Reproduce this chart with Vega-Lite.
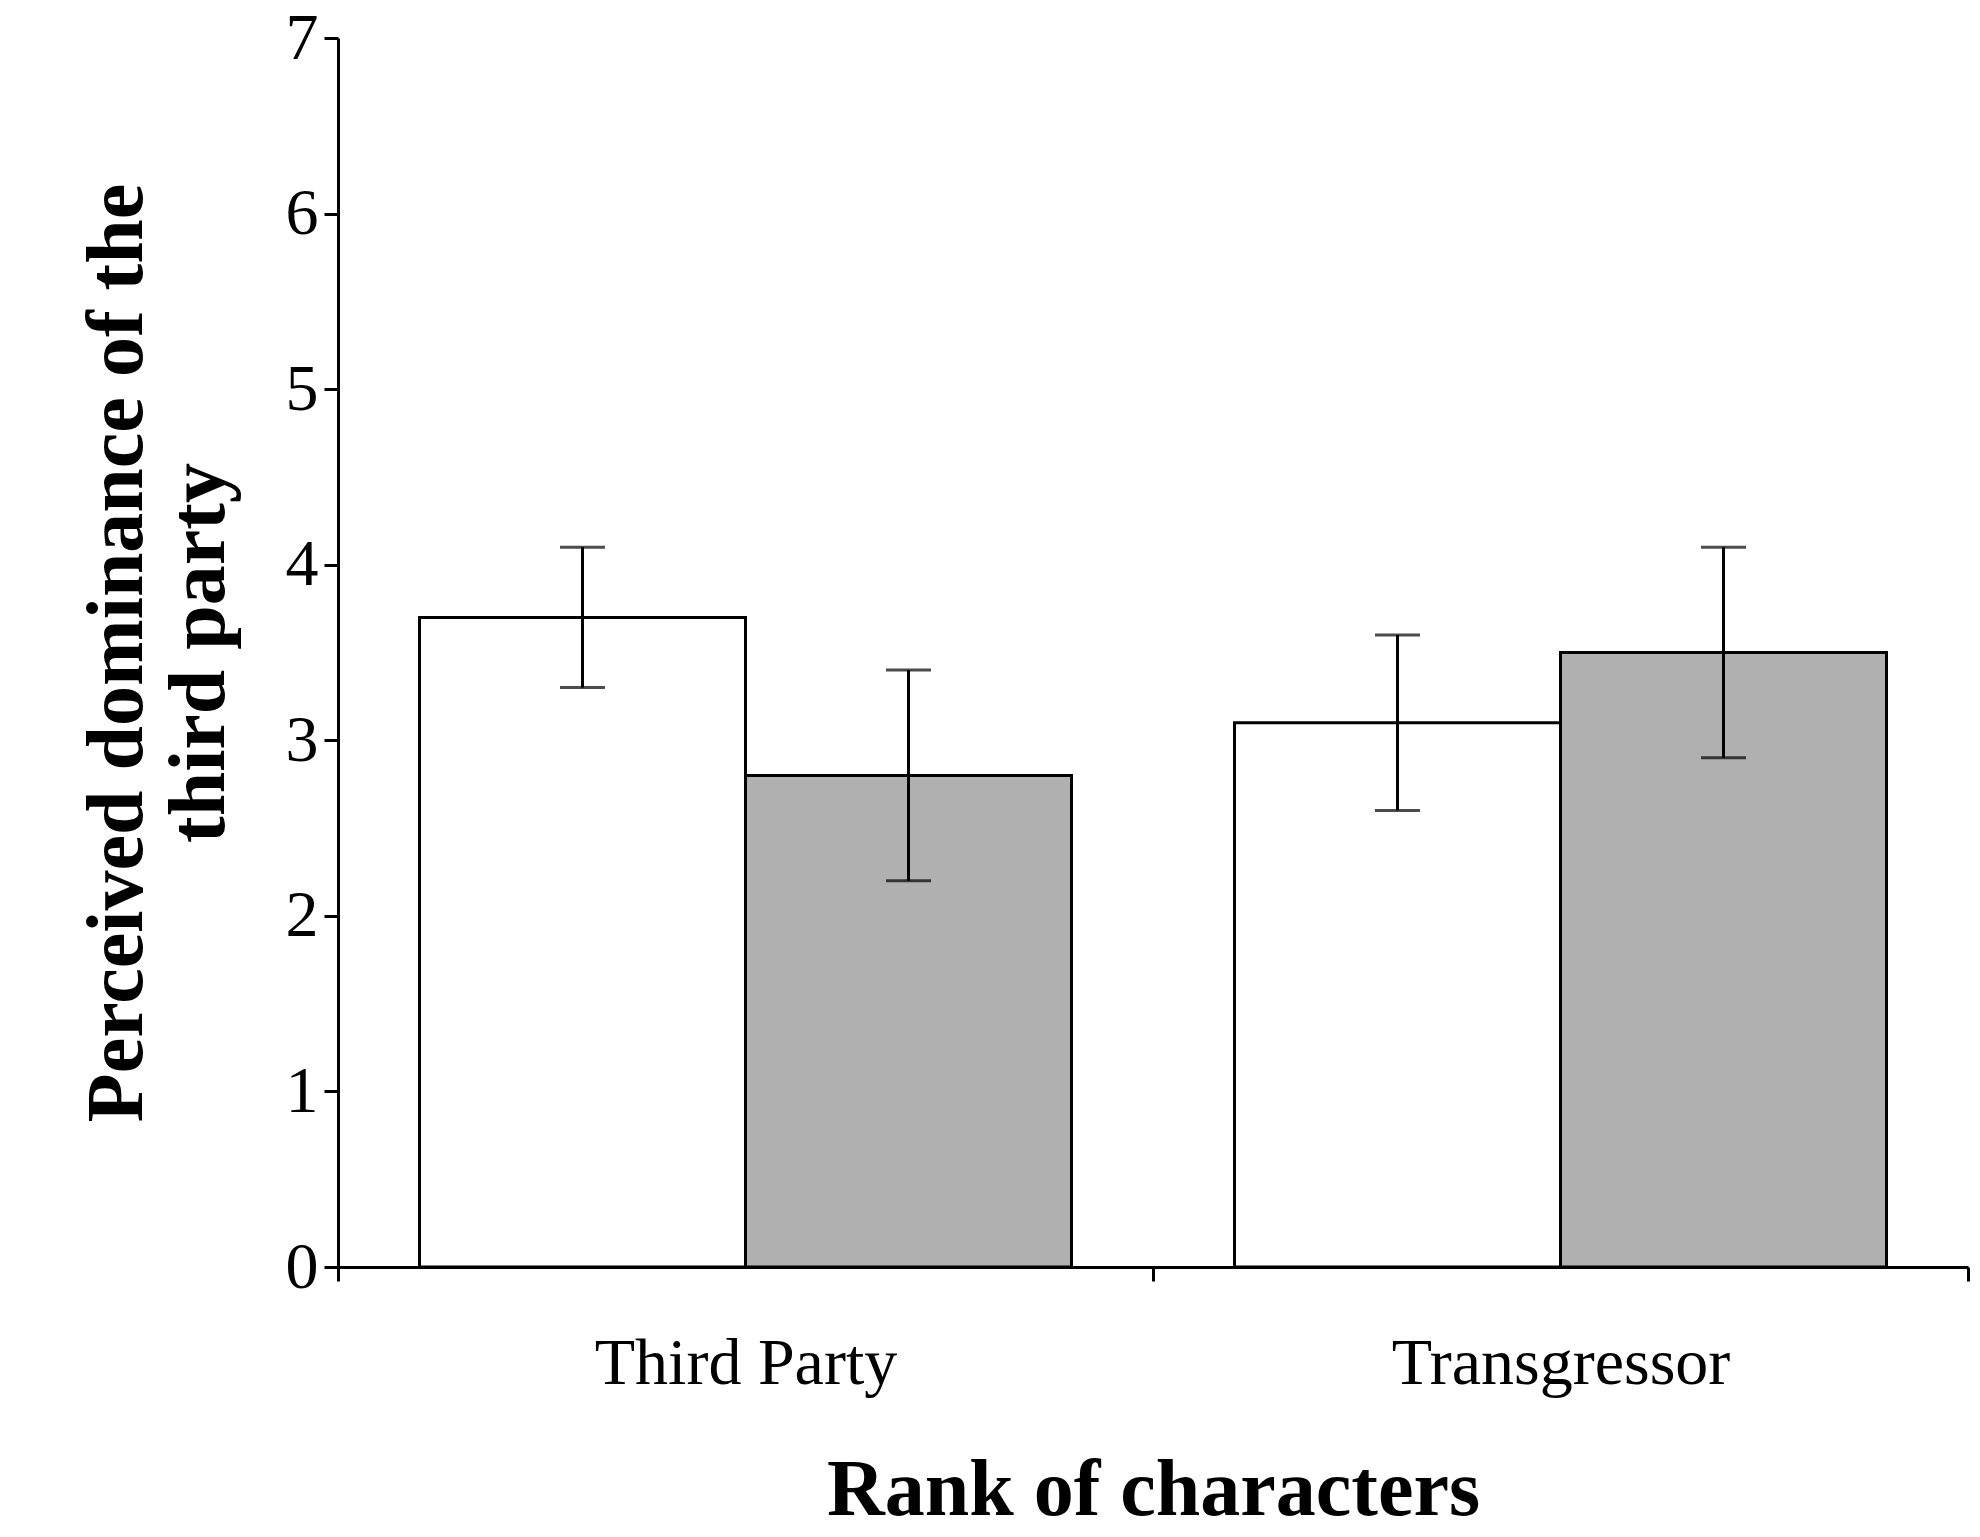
{
  "$schema": "https://vega.github.io/schema/vega-lite/v6.json",
  "width": 1630,
  "height": 1229,
  "autosize": "none",
  "padding": {"left": 338, "top": 38, "right": 12, "bottom": 270},
  "background": "white",
  "config": {
    "view": {"stroke": null},
    "font": "Liberation Serif",
    "axis": {
      "labelFont": "Liberation Serif",
      "titleFont": "Liberation Serif",
      "labelFontSize": 66,
      "titleFontSize": 80,
      "titleFontWeight": "bold",
      "labelColor": "black",
      "titleColor": "black",
      "domainColor": "black",
      "tickColor": "black",
      "domainWidth": 3,
      "tickWidth": 3,
      "tickSize": 14,
      "labelLimit": 0,
      "grid": false
    }
  },
  "data": {
    "values": [
      {"rank": "Third Party", "cond": "A", "mean": 3.7, "lo": 3.3, "hi": 4.1},
      {"rank": "Third Party", "cond": "B", "mean": 2.8, "lo": 2.2, "hi": 3.4},
      {"rank": "Transgressor", "cond": "A", "mean": 3.1, "lo": 2.6, "hi": 3.6},
      {"rank": "Transgressor", "cond": "B", "mean": 3.5, "lo": 2.9, "hi": 4.1}
    ]
  },
  "encoding": {
    "x": {
      "field": "rank",
      "type": "nominal",
      "title": "Rank of characters",
      "scale": {"paddingInner": 0, "paddingOuter": 0},
      "axis": {"labelAngle": 0, "tickBand": "extent", "labelPadding": 50, "titlePadding": 55}
    },
    "xOffset": {
      "field": "cond",
      "type": "nominal",
      "scale": {"paddingInner": 0, "paddingOuter": 0.25}
    }
  },
  "layer": [
    {
      "mark": {"type": "bar", "stroke": "black", "strokeWidth": 3},
      "encoding": {
        "y": {
          "field": "mean",
          "type": "quantitative",
          "scale": {"domain": [0, 7]},
          "title": ["Perceived dominance of the", "third party"],
          "axis": {"values": [0, 1, 2, 3, 4, 5, 6, 7], "format": "d", "labelPadding": 6, "titlePadding": 45}
        },
        "fill": {
          "field": "cond",
          "type": "nominal",
          "scale": {"domain": ["A", "B"], "range": ["#ffffff", "#b0b0b0"]},
          "legend": null
        }
      }
    },
    {
      "mark": {"type": "rule", "color": "black", "strokeWidth": 3},
      "encoding": {
        "y": {"field": "lo", "type": "quantitative"},
        "y2": {"field": "hi"}
      }
    },
    {
      "mark": {"type": "tick", "color": "black", "size": 45, "thickness": 3},
      "encoding": {"y": {"field": "lo", "type": "quantitative"}}
    },
    {
      "mark": {"type": "tick", "color": "black", "size": 45, "thickness": 3},
      "encoding": {"y": {"field": "hi", "type": "quantitative"}}
    }
  ]
}
